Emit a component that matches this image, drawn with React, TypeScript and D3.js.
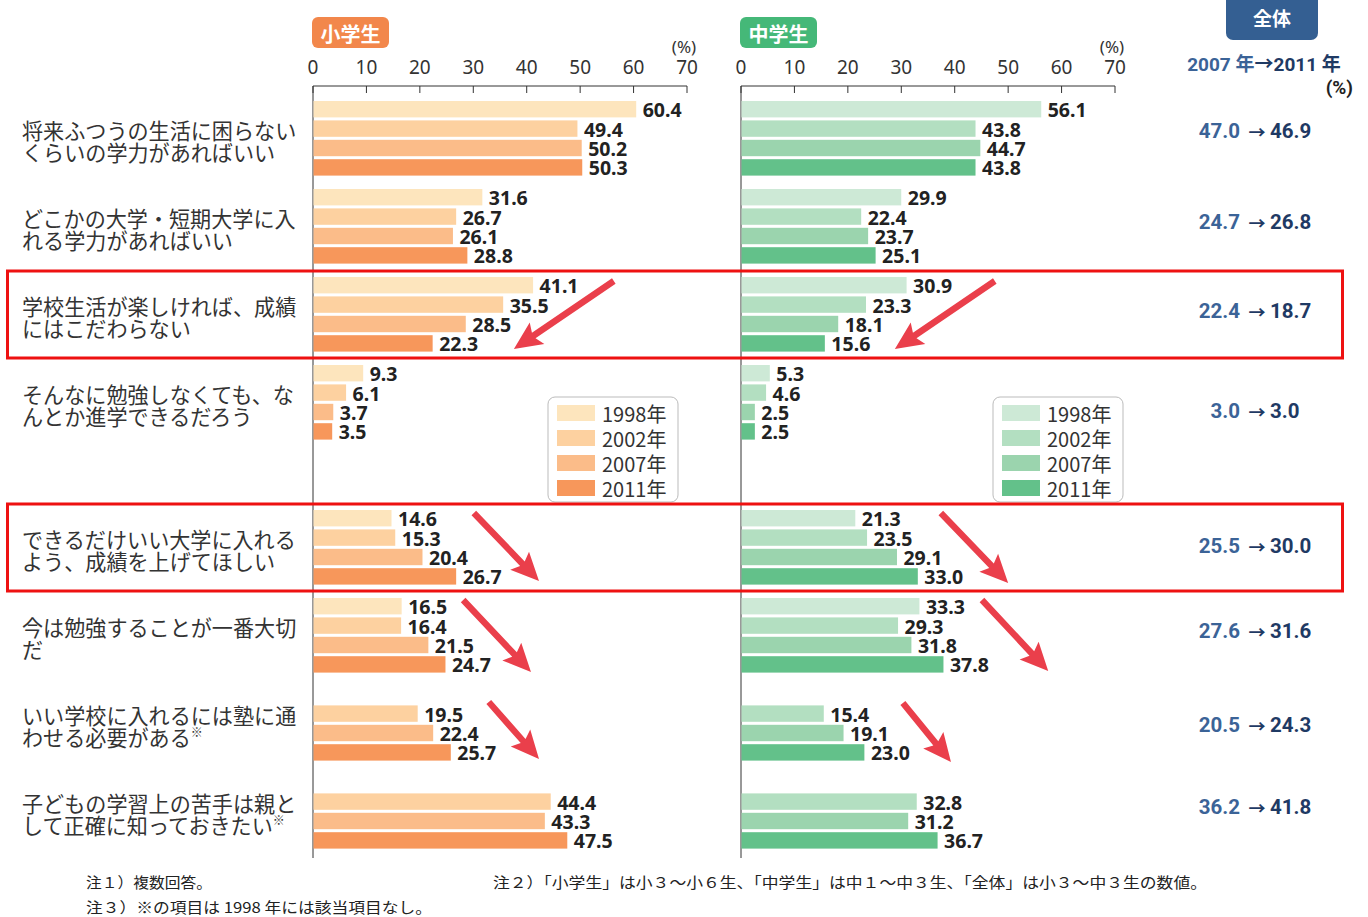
import React from "react";
import * as d3 from "d3";

const categories: string[][] = [
  ["将来ふつうの生活に困らない", "くらいの学力があればいい"],
  ["どこかの大学・短期大学に入", "れる学力があればいい"],
  ["学校生活が楽しければ、成績", "にはこだわらない"],
  ["そんなに勉強しなくても、な", "んとか進学できるだろう"],
  ["できるだけいい大学に入れる", "よう、成績を上げてほしい"],
  ["今は勉強することが一番大切", "だ"],
  ["いい学校に入れるには塾に通", "わせる必要がある※"],
  ["子どもの学習上の苦手は親と", "して正確に知っておきたい※"],
];

const years = ["1998年", "2002年", "2007年", "2011年"];

const elem1998 = [60.4, 31.6, 41.1, 9.3, 14.6, 16.5, null, null];
const elem2002 = [49.4, 26.7, 35.5, 6.1, 15.3, 16.4, 19.5, 44.4];
const elem2007 = [50.2, 26.1, 28.5, 3.7, 20.4, 21.5, 22.4, 43.3];
const elem2011 = [50.3, 28.8, 22.3, 3.5, 26.7, 24.7, 25.7, 47.5];

const jh1998 = [56.1, 29.9, 30.9, 5.3, 21.3, 33.3, null, null];
const jh2002 = [43.8, 22.4, 23.3, 4.6, 23.5, 29.3, 15.4, 32.8];
const jh2007 = [44.7, 23.7, 18.1, 2.5, 29.1, 31.8, 19.1, 31.2];
const jh2011 = [43.8, 25.1, 15.6, 2.5, 33.0, 37.8, 23.0, 36.7];

const total2007 = ["47.0", "24.7", "22.4", "3.0", "25.5", "27.6", "20.5", "36.2"];
const total2011 = ["46.9", "26.8", "18.7", "3.0", "30.0", "31.6", "24.3", "41.8"];

const ticks = [0, 10, 20, 30, 40, 50, 60, 70];

const orangeColors = ["#fde5bd", "#fdd1a0", "#fbbc89", "#f7975b"];
const greenColors = ["#cde9d6", "#b3dfc1", "#9bd4ae", "#63c18a"];

// arrows: [groupIndex, startX%, startDy, endX%, endDy]
const elemArrows = [
  [2, 56.3, 4, 37.6, 72],
  [4, 30.1, 3, 42.3, 71],
  [5, 28.1, 2, 40.8, 74],
  [6, 32.9, 16, 42.3, 73],
];
const jhArrows = [
  [2, 47.5, 4, 28.8, 72],
  [4, 37.4, 3, 50.0, 73],
  [5, 45.1, 2, 57.5, 73],
  [6, 30.3, 17, 39.3, 76],
];
const highlighted = [2, 4];
const totalDy = [-7, -4, -3, 9, -1, -4, 2, -4];

const groupTop = (i: number) => 101 + i * 88 + (i >= 4 ? 57 : 0);
const slotY = d3.scaleLinear().domain([0, 1]).range([0, 19.4]);
const BAR_H = 16.4;

function Arrow({ x1, y1, x2, y2 }: { x1: number; y1: number; x2: number; y2: number }) {
  const dx = x2 - x1, dy = y2 - y1;
  const len = Math.hypot(dx, dy);
  const ux = dx / len, uy = dy / len;
  const nx = -uy, ny = ux;
  const w = 3.2, hw = 13, hl = 28;
  const bx = x2 - ux * hl, by = y2 - uy * hl;
  const notch = 4;
  const cx = bx + ux * notch, cy = by + uy * notch;
  const pts = [
    [x1 + nx * w, y1 + ny * w],
    [cx + nx * w, cy + ny * w],
    [bx + nx * hw, by + ny * hw],
    [x2, y2],
    [bx - nx * hw, by - ny * hw],
    [cx - nx * w, cy - ny * w],
    [x1 - nx * w, y1 - ny * w],
  ];
  return <polygon points={pts.map((p) => p.join(",")).join(" ")} fill="#ea3f4b" />;
}

function Panel({
  x0,
  series,
  colors,
  badge,
  badgeColor,
  arrows,
}: {
  x0: number;
  series: (number | null)[][];
  colors: string[];
  badge: string;
  badgeColor: string;
  arrows: number[][];
}) {
  const x = d3.scaleLinear().domain([0, 70]).range([x0, x0 + 374]);
  const axisY = 86;
  return (
    <g>
      <rect x={x0 - 1} y={17} width={77} height={31} rx={6} fill={badgeColor} />
      <text
        x={x0 + 37.5}
        y={33}
        textAnchor="middle"
        dominantBaseline="central"
        fill="#fff"
        fontSize={20}
        fontWeight={700}
        fontFamily="'Noto Sans CJK JP'"
      >
        {badge}
      </text>
      <text x={x(70) - 3} y={46} textAnchor="middle" dominantBaseline="central" fontSize={17} fill="#333" fontFamily="'Noto Sans'">
        (%)
      </text>
      {ticks.map((t) => (
        <g key={t}>
          <text
            x={x(t)}
            y={67}
            textAnchor="middle"
            dominantBaseline="central"
            fontSize={19}
            fill="#333"
            fontFamily="'Noto Sans'"
          >
            {t}
          </text>
          <line x1={x(t)} x2={x(t)} y1={axisY} y2={axisY + 7} stroke="#333" strokeWidth={1} />
        </g>
      ))}
      <line x1={x(0)} x2={x(70)} y1={axisY} y2={axisY} stroke="#333" strokeWidth={1} />
      <line x1={x(0)} x2={x(0)} y1={axisY} y2={858} stroke="#333" strokeWidth={1} />
      {categories.map((_, gi) =>
        series.map((s, si) => {
          const v = s[gi];
          if (v === null || v === undefined) return null;
          const y = groupTop(gi) + slotY(si);
          return (
            <g key={`${gi}-${si}`}>
              <rect x={x(0) + 0.5} y={y} width={x(v) - x(0)} height={BAR_H} fill={colors[si]} />
              <text
                x={x(v) + 7}
                y={y + BAR_H / 2 + 0.5}
                dominantBaseline="central"
                fontSize={19.5}
                fontWeight={700}
                fill="#222"
                fontFamily="'Noto Sans'"
              >
                {v.toFixed(1)}
              </text>
            </g>
          );
        })
      )}
      {arrows.map((a, i) => (
        <Arrow
          key={i}
          x1={x(a[1])}
          y1={groupTop(a[0]) + a[2]}
          x2={x(a[3])}
          y2={groupTop(a[0]) + a[4]}
        />
      ))}
    </g>
  );
}

function Legend({ x, colors }: { x: number; colors: string[] }) {
  const y0 = 397;
  return (
    <g>
      <rect x={x} y={y0} width={130} height={105} rx={7} fill="#fff" stroke="#bbb" strokeWidth={1} />
      {years.map((yr, i) => (
        <g key={yr}>
          <rect x={x + 9} y={y0 + 8 + i * 25} width={38} height={16} fill={colors[i]} />
          <text
            x={x + 54}
            y={y0 + 16 + i * 25}
            dominantBaseline="central"
            fontSize={20}
            fill="#333"
            fontFamily="'Noto Sans CJK JP'"
          >
            {yr}
          </text>
        </g>
      ))}
    </g>
  );
}

export default function App() {
  const elemSeries = [elem1998, elem2002, elem2007, elem2011];
  const jhSeries = [jh1998, jh2002, jh2007, jh2011];
  const blue = "#3b6397";
  const navy = "#1f3a64";
  return (
    <svg
      width={1368}
      height={917}
      style={{ position: "absolute", left: 0, top: 0, background: "#fff" }}
      fontFamily="'Noto Sans CJK JP'"
    >
      <rect width={1368} height={917} fill="#fff" />
      {/* category labels */}
      {categories.map((lines, gi) => {
        const c = groupTop(gi) + 37;
        return (
          <g key={gi}>
            {lines.map((ln, li) => {
              const hasMark = ln.endsWith("※");
              const main = hasMark ? ln.slice(0, -1) : ln;
              return (
                <text
                  key={li}
                  x={22}
                  y={c + (li === 0 ? -8.5 : 13.5)}
                  dominantBaseline="central"
                  fontSize={21.1}
                  fill="#333"
                  fontFamily="'Noto Sans CJK JP'"
                >
                  {main}
                  {hasMark ? (
                    <tspan fontSize={12} dy={-6}>
                      ※
                    </tspan>
                  ) : null}
                </text>
              );
            })}
          </g>
        );
      })}
      <Panel x0={313} series={elemSeries} colors={orangeColors} badge="小学生" badgeColor="#f2874b" arrows={elemArrows} />
      <Panel x0={741} series={jhSeries} colors={greenColors} badge="中学生" badgeColor="#45b878" arrows={jhArrows} />
      <Legend x={548} colors={orangeColors} />
      <Legend x={993} colors={greenColors} />
      {/* total column */}
      <rect x={1226} y={-10} width={92} height={50} rx={7} fill="#345f92" />
      <text
        x={1272}
        y={17}
        textAnchor="middle"
        dominantBaseline="central"
        fill="#fff"
        fontSize={19}
        fontWeight={700}
        fontFamily="'Noto Sans CJK JP'"
      >
        全体
      </text>
      <text x={1264} y={64} textAnchor="middle" dominantBaseline="central" fontSize={19} fontWeight={700} fontFamily="Roboto, 'Noto Sans CJK JP'">
        <tspan fill={blue}>2007 年</tspan>
        <tspan fill={navy}>→2011 年</tspan>
      </text>
      <text x={1353} y={87} textAnchor="end" dominantBaseline="central" fontSize={19} fontWeight={700} fill="#222" fontFamily="Roboto">
        (%)
      </text>
      {categories.map((_, gi) => {
        const y = groupTop(gi) + 37 + totalDy[gi];
        return (
          <g key={gi} fontSize={20.5} fontWeight={700} fontFamily="Roboto">
            <text x={1240} y={y} textAnchor="end" dominantBaseline="central" fill={blue}>
              {total2007[gi]}
            </text>
            <text x={1257} y={y} textAnchor="middle" dominantBaseline="central" fill={navy} fontFamily="'Noto Sans CJK JP'" fontSize={17}>
              →
            </text>
            <text x={1270} y={y} textAnchor="start" dominantBaseline="central" fill={navy}>
              {total2011[gi]}
            </text>
          </g>
        );
      })}
      {/* highlight boxes */}
      {highlighted.map((gi) => (
        <rect
          key={gi}
          x={7.5}
          y={groupTop(gi) - 6}
          width={1335}
          height={87}
          fill="none"
          stroke="#ee1111"
          strokeWidth={3}
        />
      ))}
      {/* notes */}
      <g fontSize={15} fill="#222" fontFamily="'Noto Sans CJK JP'" dominantBaseline="central">
        <text x={86} y={881} textLength={126} lengthAdjust="spacingAndGlyphs">
          注１）複数回答。
        </text>
        <text x={86} y={906} textLength={346} lengthAdjust="spacingAndGlyphs">
          注３）※の項目は 1998 年には該当項目なし。
        </text>
        <text x={493} y={881} textLength={714} lengthAdjust="spacingAndGlyphs">
          注２）「小学生」は小３～小６生、「中学生」は中１～中３生、「全体」は小３～中３生の数値。
        </text>
      </g>
    </svg>
  );
}
